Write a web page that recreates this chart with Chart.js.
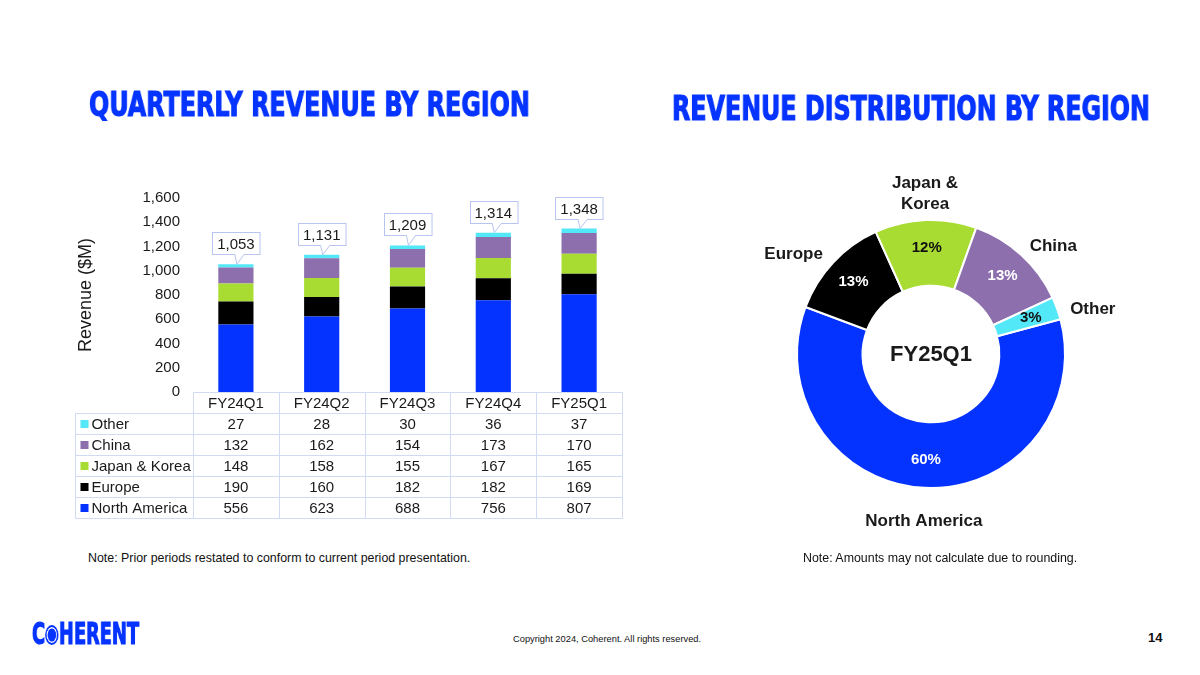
<!DOCTYPE html>
<html>
<head>
<meta charset="utf-8">
<script src="https://cdn.jsdelivr.net/npm/chart.js@4.4.1/dist/chart.umd.min.js"></script>
<style>
  html, body { margin: 0; padding: 0; background: #fff; }
  body { width: 1200px; height: 675px; position: relative; overflow: hidden;
         font-family: "Liberation Sans", Arial, sans-serif; color: #111; }
  .ttl { position: absolute; white-space: nowrap; line-height: 1;
         font-family: "Liberation Sans Narrow", "DejaVu Sans Condensed", "Liberation Sans", sans-serif;
         font-weight: 700; color: #0533ff; -webkit-text-stroke: 1.1px #0533ff; transform-origin: 0 0;
         will-change: transform; }
  .globe { display: inline-block; width: 0.66em; height: 0.66em; border-radius: 50%;
           background: #0533ff; box-sizing: border-box; border: 0.07em solid #0533ff;
           box-shadow: inset 0 0 0 0.05em #fff; vertical-align: -0.02em; margin: 0 0.02em; }
  .note { position: absolute; white-space: nowrap; font-size: 12.4px; line-height: 15px; color: #111; }
  #barWrap { position: absolute; left: 60px; top: 176px; }
  #pieWrap { position: absolute; left: 731px; top: 154px; }
</style>
</head>
<body>

<div class="ttl" data-w="441" style="left:89px; top:87.5px; font-size:33px;">QUARTERLY REVENUE BY REGION</div>
<div class="ttl" data-w="478" style="left:672px; top:92px; font-size:33px;">REVENUE DISTRIBUTION BY REGION</div>

<div id="barWrap"><canvas id="barChart" width="580" height="350"></canvas></div>
<div id="pieWrap"><canvas id="pieChart" width="400" height="400"></canvas></div>

<div class="note" style="left:88px; top:551px;">Note: Prior periods restated to conform to current period presentation.</div>
<div class="note" style="left:803px; top:551px;">Note: Amounts may not calculate due to rounding.</div>

<div class="ttl" data-w="107" style="left:32px; top:619px; font-size:30px;">C<span class="globe"></span>HERENT</div>
<div class="note" style="left:513px; top:633px; font-size:9.3px; line-height:12px;">Copyright 2024, Coherent. All rights reserved.</div>
<div class="note" style="left:1148px; top:630px; font-size:13px; font-weight:700;">14</div>

<script>
// quarterly revenue by region, $M
const quarters = ['FY24Q1', 'FY24Q2', 'FY24Q3', 'FY24Q4', 'FY25Q1'];
const northAmerica = [556, 623, 688, 756, 807];
const europe = [190, 160, 182, 182, 169];
const japanKorea = [148, 158, 155, 167, 165];
const china = [132, 162, 154, 173, 170];
const other = [27, 28, 30, 36, 37];

const regions = ['North America', 'Europe', 'Japan & Korea', 'China', 'Other'];
const yTicks = { min: 0, max: 1600, step: 200 };

const colors = ['#0433ff', '#000000', '#a8dc32', '#8d6fae', '#52e8f8'];
const pctColors = ['#fff', '#fff', '#111', '#fff', '#111'];
const FONT = '"Liberation Sans", Arial, sans-serif';
const TEXT = '#1a1a1a';

// stretch titles to the width they have on the slide
document.querySelectorAll('.ttl').forEach(el => {
  const w = +el.dataset.w;
  el.style.transform = 'scaleX(' + (w / el.offsetWidth) + ')';
});

const series = [northAmerica, europe, japanKorea, china, other];

// data table under the bars, columns follow the x scale
const tablePlugin = {
  id: 'dataTable',
  afterDraw(chart) {
    const { ctx, chartArea, scales: { x } } = chart;
    const n = chart.data.labels.length;
    const colW = x.width / n;
    const rowH = 21;
    const top = Math.round(chartArea.bottom) + 0.5;
    const legLeft = 15.5;
    const right = Math.round(x.right) + 0.5;
    const rows = chart.data.datasets.slice().reverse();

    ctx.save();
    ctx.strokeStyle = '#d3daf3';
    ctx.lineWidth = 1;
    ctx.beginPath();
    ctx.moveTo(Math.round(x.left) + 0.5, top); ctx.lineTo(right, top);
    for (let k = 1; k <= rows.length + 1; k++) {
      ctx.moveTo(legLeft, top + k * rowH); ctx.lineTo(right, top + k * rowH);
    }
    for (let i = 0; i <= n; i++) {
      const cx = Math.round(x.left + i * colW) + 0.5;
      ctx.moveTo(cx, top); ctx.lineTo(cx, top + (rows.length + 1) * rowH);
    }
    ctx.moveTo(legLeft, top + rowH); ctx.lineTo(legLeft, top + (rows.length + 1) * rowH);
    ctx.stroke();

    ctx.font = '15px ' + FONT;
    ctx.fillStyle = TEXT;
    ctx.textBaseline = 'middle';
    ctx.textAlign = 'center';
    chart.data.labels.forEach((lab, i) => {
      ctx.fillText(lab, x.getPixelForValue(i), top + rowH / 2 + 1);
    });
    rows.forEach((ds, r) => {
      const cy = top + (r + 1) * rowH + rowH / 2 + 1;
      ctx.textAlign = 'center';
      ctx.fillStyle = TEXT;
      ds.data.forEach((v, i) => ctx.fillText(String(v), x.getPixelForValue(i), cy));
      ctx.fillStyle = ds.backgroundColor;
      ctx.fillRect(legLeft + 5, cy - 5, 8, 8);
      ctx.fillStyle = TEXT;
      ctx.textAlign = 'left';
      ctx.fillText(ds.label, legLeft + 16, cy);
    });
    ctx.restore();
  }
};

// total callouts above each stack
const calloutPlugin = {
  id: 'callouts',
  afterDatasetsDraw(chart) {
    const { ctx } = chart;
    const last = chart.getDatasetMeta(chart.data.datasets.length - 1);
    ctx.save();
    ctx.font = '15px ' + FONT;
    chart.data.labels.forEach((lab, i) => {
      const total = chart.data.datasets.reduce((s, ds) => s + ds.data[i], 0);
      const bar = last.data[i];
      const cx = bar.x, barTop = bar.y;
      const txt = total.toLocaleString('en-US');
      const w = ctx.measureText(txt).width + 10;
      const h = 22;
      const bx = Math.round(cx - w / 2) + 0.5;
      const by = Math.round(barTop - 10 - h) + 0.5;
      ctx.fillStyle = '#fff';
      ctx.strokeStyle = '#b9c5f0';
      ctx.lineWidth = 1;
      ctx.fillRect(bx, by, w, h);
      ctx.strokeRect(bx, by, w, h);
      // pointer
      const b = by + h;
      ctx.beginPath();
      ctx.moveTo(cx - 1, b); ctx.lineTo(cx + 1, barTop); ctx.lineTo(cx + 8, b); ctx.closePath();
      ctx.fill();
      ctx.beginPath();
      ctx.moveTo(cx - 1, b); ctx.lineTo(cx + 1, barTop); ctx.lineTo(cx + 8, b);
      ctx.stroke();
      ctx.fillStyle = '#fff';
      ctx.fillRect(cx - 0.5, b - 1, 8, 1.5);
      ctx.fillStyle = TEXT;
      ctx.textAlign = 'center';
      ctx.textBaseline = 'middle';
      ctx.fillText(txt, cx, by + h / 2 + 1);
    });
    ctx.restore();
  }
};

new Chart(document.getElementById('barChart'), {
  type: 'bar',
  data: {
    labels: quarters,
    datasets: regions.map((name, k) => ({
      label: name,
      data: series[k],
      backgroundColor: colors[k],
      borderWidth: 0,
      barPercentage: 0.41,
      categoryPercentage: 1
    }))
  },
  options: {
    responsive: false,
    animation: false,
    layout: { padding: { left: 15, right: 18, top: 14, bottom: 134 } },
    plugins: { legend: { display: false }, tooltip: { enabled: false } },
    scales: {
      x: { stacked: true, display: false },
      y: {
        stacked: true,
        min: yTicks.min, max: yTicks.max,
        ticks: { stepSize: yTicks.step, padding: 13, color: TEXT, font: { size: 15, family: FONT } },
        grid: { display: false, drawTicks: false },
        border: { display: false },
        title: { display: true, text: 'Revenue ($M)', color: TEXT, font: { size: 18, family: FONT }, padding: { top: 0, bottom: 0 } },
        afterFit(scale) { scale.width = 118; }
      }
    }
  },
  plugins: [calloutPlugin, tablePlugin]
});

// FY25Q1 split for the doughnut
const latest = series.map(s => s[s.length - 1]);
const latestTotal = latest.reduce((a, b) => a + b, 0);

const donutLabels = {
  id: 'donutLabels',
  afterDatasetsDraw(chart) {
    const { ctx } = chart;
    const arcs = chart.getDatasetMeta(0).data;
    ctx.save();
    ctx.textAlign = 'center';
    ctx.textBaseline = 'middle';
    arcs.forEach((arc, i) => {
      const p = arc.getProps(['x', 'y', 'startAngle', 'endAngle', 'innerRadius', 'outerRadius']);
      const mid = (p.startAngle + p.endAngle) / 2;
      const c = Math.cos(mid), s = Math.sin(mid);
      // percentage inside the ring
      const pr = (p.innerRadius + p.outerRadius) / 2 + 5;
      ctx.font = 'bold 15px ' + FONT;
      ctx.fillStyle = pctColors[i];
      ctx.fillText(Math.round(latest[i] / latestTotal * 100) + '%', p.x + c * pr, p.y + s * pr);
      // category name outside the ring
      const lines = chart.data.labels[i].replace('& ', '&\n').split('\n');
      ctx.font = 'bold 17px ' + FONT;
      ctx.fillStyle = TEXT;
      const w = Math.max(...lines.map(l => ctx.measureText(l).width));
      const h = lines.length * 21;
      const r = p.outerRadius + 14;
      const side = Math.max(0, Math.min(1, (Math.abs(c) - 0.2) * 2));
      const lx = p.x + c * r + Math.sign(c) * side * w / 2;
      const ly = p.y + s * r + s * h / 2 + 9;
      lines.forEach((l, j) => ctx.fillText(l, lx, ly - (lines.length - 1) * 10.5 + j * 21));
    });
    const a0 = arcs[0].getProps(['x', 'y']);
    ctx.font = 'bold 22px ' + FONT;
    ctx.fillStyle = TEXT;
    ctx.fillText(quarters[quarters.length - 1], a0.x, a0.y + 1);
    ctx.restore();
  }
};

new Chart(document.getElementById('pieChart'), {
  type: 'doughnut',
  data: {
    labels: regions,
    datasets: [{ data: latest, backgroundColor: colors, borderColor: '#fff', borderWidth: 2 }]
  },
  options: {
    responsive: false,
    animation: false,
    rotation: 75,
    cutout: '51%',
    layout: { padding: 65 },
    plugins: { legend: { display: false }, tooltip: { enabled: false } }
  },
  plugins: [donutLabels]
});
</script>
</body>
</html>
